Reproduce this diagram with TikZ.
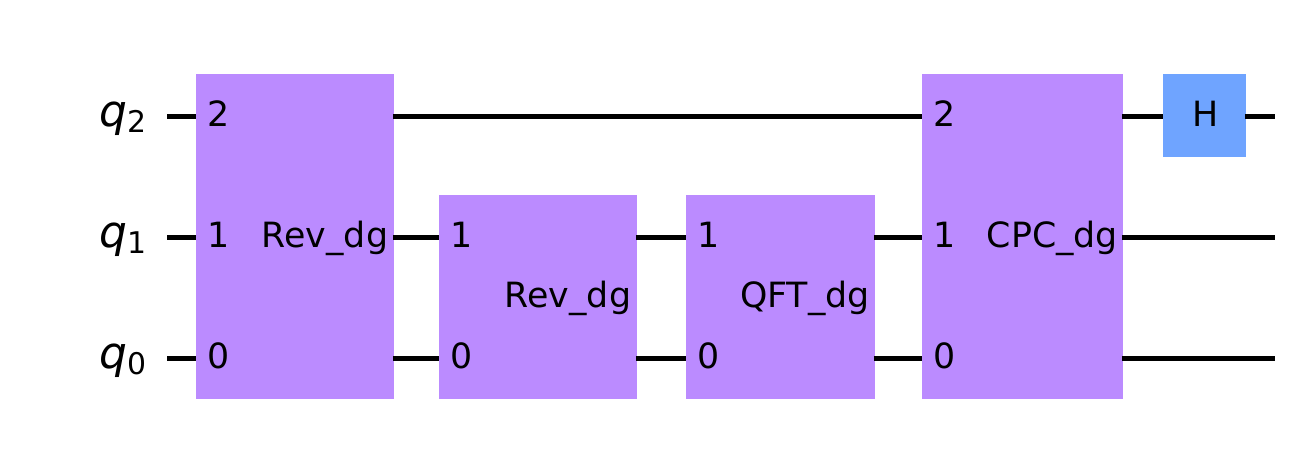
\documentclass[tikz,border=0pt]{standalone}
\usepackage{fontspec}
\setmainfont{DejaVu Sans}
\usepackage{xcolor}
\usetikzlibrary{positioning,calc}
\definecolor{gatepurple}{HTML}{BB8BFF}
\definecolor{gateblue}{HTML}{6FA4FF}
\tikzset{
  wire/.style={black, line width=3.1pt},
  wireout/.style={wire, shorten <=-1pt},
  gatebox/.style={fill=gatepurple, inner sep=0pt, anchor=north west},
  gatetext/.style={font=\fontsize{19.8}{22}\selectfont, inner sep=0pt, anchor=base},
  qlabel/.style={font=\fontsize{25}{27}\selectfont\itshape, inner sep=0pt, anchor=base east}
}
\newcommand{\qsub}[1]{\raisebox{-3.2pt}{\fontsize{17}{18}\selectfont\upshape #1}}
\begin{document}
\begin{tikzpicture}[x=0.02cm,y=-0.02cm]
\useasboundingbox (0,0) rectangle (1303,450);
% Wire ends
\coordinate (qtwo) at (167,116.4);
\coordinate (qone) at (167,237.4);
\coordinate (qzero) at (167,358.4);
\coordinate (endtwo) at (1275,116.4);
\coordinate (endone) at (1275,237.4);
\coordinate (endzero) at (1275,358.4);
% Gates
\node[gatebox, minimum width=3.96cm, minimum height=6.5cm] (revA) at (196,74) {};
\node[gatebox, minimum width=3.96cm, minimum height=4.08cm] (revB) at (439,195) {};
\node[gatebox, minimum width=3.78cm, minimum height=4.08cm] (qft) at (686,195) {};
\node[gatebox, minimum width=4.02cm, minimum height=6.5cm] (cpc) at (922,74) {};
\node[gatebox, fill=gateblue, minimum width=1.66cm, minimum height=1.66cm] (hgate) at (1163,74) {};
% Wires
\draw[wire] (qtwo) -- (qtwo -| revA.west);
\draw[wire] (qone) -- (qone -| revA.west);
\draw[wire] (qzero) -- (qzero -| revA.west);
\draw[wireout] (qtwo -| revA.east) -- (qtwo -| cpc.west);
\draw[wireout] (qone -| revA.east) -- (qone -| revB.west);
\draw[wireout] (qzero -| revA.east) -- (qzero -| revB.west);
\draw[wireout] (qone -| revB.east) -- (qone -| qft.west);
\draw[wireout] (qzero -| revB.east) -- (qzero -| qft.west);
\draw[wireout] (qone -| qft.east) -- (qone -| cpc.west);
\draw[wireout] (qzero -| qft.east) -- (qzero -| cpc.west);
\draw[wireout] (qtwo -| cpc.east) -- (qtwo -| hgate.west);
\draw[wireout] (qtwo -| hgate.east) -- (endtwo);
\draw[wireout] (qone -| cpc.east) -- (endone);
\draw[wireout] (qzero -| cpc.east) -- (endzero);
% Qubit labels
\node[qlabel] (ltwo) at (147,126.5) {q\qsub{2}};
\node[qlabel] (lone) at (147,247.5) {q\qsub{1}};
\node[qlabel] (lzero) at (147,368.5) {q\qsub{0}};
% Port numbers
\foreach \g/\x in {revA/218.7,cpc/944.7} {
  \node[gatetext] (\g two) at (\x,126.5) {2};
  \node[gatetext] (\g one) at (\x,247.5) {1};
  \node[gatetext] (\g zero) at (\x,368.5) {0};
}
\foreach \g/\x in {revB/461.7,qft/708.7} {
  \node[gatetext] (\g one) at (\x,247.5) {1};
  \node[gatetext] (\g zero) at (\x,368.5) {0};
}
% Gate names
\node[gatetext] (revAname) at (325,247.5) {Rev\_dg};
\node[gatetext] (revBname) at (568,307.5) {Rev\_dg};
\node[gatetext] (qftname) at (805,307.5) {QFT\_dg};
\node[gatetext] (cpcname) at (1052.5,247.5) {CPC\_dg};
\node[gatetext] (hname) at (1205.5,126.5) {H};
\end{tikzpicture}
\end{document}
